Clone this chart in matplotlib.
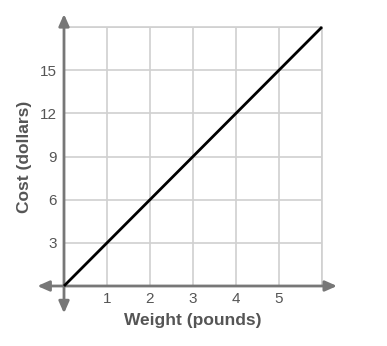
import matplotlib
matplotlib.use("Agg")
import matplotlib.pyplot as plt

plt.rcParams['font.family'] = ['Liberation Sans', 'DejaVu Sans']

weight = [0, 6]
cost = [0, 18]
xticks = [1, 2, 3, 4, 5]
yticks = [3, 6, 9, 12, 15]

fig = plt.figure(figsize=(3.87, 3.46), dpi=100)
ax = fig.add_axes([64/387, 60/346, 258/387, 259/346])
ax.set_xlim(0, 6)
ax.set_ylim(0, 18)

ax.set_xticks(xticks)
ax.set_yticks(yticks)
ax.set_xticks([6], minor=True)
ax.set_yticks([18], minor=True)
ax.grid(True, which="both", color="#d0d0d0", linewidth=1.2)
ax.set_axisbelow(True)
for s in ["top", "right"]:
    ax.spines[s].set_color("#d0d0d0")
    ax.spines[s].set_linewidth(1.2)
for s in ["left", "bottom"]:
    ax.spines[s].set_visible(False)
ax.tick_params(which="both", length=0, colors="#555555", labelsize=11)
ax.tick_params(axis="x", pad=4)
ax.tick_params(axis="y", pad=5)

# axes with arrows
arrow = dict(arrowstyle="-|>,head_length=0.5,head_width=0.22", color="#777777", lw=2,
             mutation_scale=14, shrinkA=0, shrinkB=0)
ax.annotate("", xy=(6.35, 0), xytext=(0, 0), arrowprops=arrow, annotation_clip=False)
ax.annotate("", xy=(-0.62, 0), xytext=(0, 0), arrowprops=arrow, annotation_clip=False)
ax.annotate("", xy=(0, 18.9), xytext=(0, 0), arrowprops=arrow, annotation_clip=False)
ax.annotate("", xy=(0, -1.9), xytext=(0, 0), arrowprops=arrow, annotation_clip=False)

ax.plot(weight, cost, color="black", linewidth=2, solid_capstyle="butt", clip_on=False, zorder=5)

ax.set_xlabel("Weight (pounds)", fontsize=12.5, fontweight="bold", color="#555555", labelpad=5)
ax.set_ylabel("Cost (dollars)", fontsize=12.5, fontweight="bold", color="#555555", labelpad=6)

fig.savefig("out.png", dpi=100)
